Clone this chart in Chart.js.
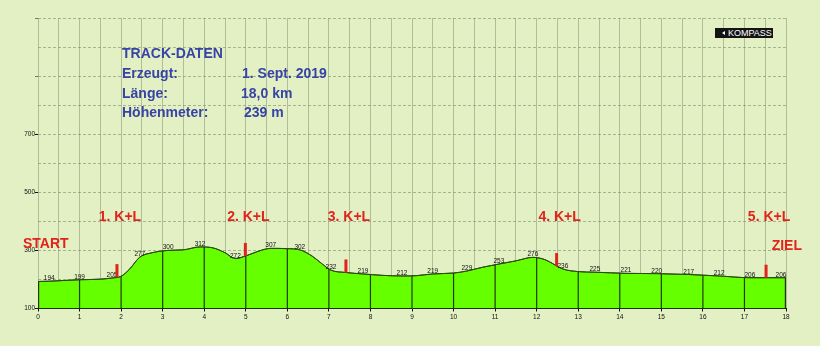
<!DOCTYPE html>
<html>
<head>
<meta charset="utf-8">
<title>Höhenprofil</title>
<script src="https://cdn.jsdelivr.net/npm/chart.js@4.4.1/dist/chart.umd.min.js"></script>
<style>
  html, body { margin: 0; padding: 0; background: #e3f0c4; }
  #wrap { position: relative; width: 820px; height: 346px; overflow: hidden; background: #e3f0c4; }
  #c { position: absolute; left: 0; top: 0; }
  .info { position: absolute; font: bold 14px "Liberation Sans", Arial, sans-serif; color: #3743a5;
          line-height: 16px; white-space: nowrap; }
  #logo { position: absolute; left: 715px; top: 28px; width: 58px; height: 10px; background: #141414;
          color: #fff; font: 9px "Liberation Sans", Arial, sans-serif; line-height: 10px; white-space: nowrap; }
  #logo .tri { position: absolute; left: 7px; top: 3px; width: 0; height: 0;
               border-top: 2px solid transparent; border-bottom: 2px solid transparent; border-right: 3px solid #fff; }
  #logo .txt { position: absolute; left: 13px; top: 0; }
</style>
</head>
<body>
<div id="wrap">
  <canvas id="c" width="820" height="346"></canvas>
  <div class="info" style="left:122px;top:45px">TRACK-DATEN</div>
  <div class="info" style="left:122px;top:65px">Erzeugt:</div>
  <div class="info" style="left:242px;top:65px">1. Sept. 2019</div>
  <div class="info" style="left:122px;top:85px">Länge:</div>
  <div class="info" style="left:241px;top:85px">18,0 km</div>
  <div class="info" style="left:122px;top:104px">Höhenmeter:</div>
  <div class="info" style="left:244px;top:104px">239 m</div>
  <div id="logo"><span class="tri"></span><span class="txt">KOMPASS</span></div>
</div>
<script>
// Spot heights printed along the profile (km, m)
const spotKm = [0.27, 1.0, 1.78, 2.45, 3.13, 3.9, 4.75, 5.6, 6.3, 7.05, 7.82, 8.76,
                9.5, 10.32, 11.09, 11.91, 12.63, 13.4, 14.15, 14.89, 15.66, 16.39, 17.13, 17.88];
const spotM  = [194, 199, 205, 277, 300, 312, 272, 307, 302, 232, 219, 212,
                219, 229, 253, 276, 236, 225, 221, 220, 217, 212, 206, 206];

// Further points of the terrain line between the spot heights (km, m)
const shapeKm = [0, 1.5, 2.0, 2.2, 2.75, 3.5, 4.2, 4.5, 5.0, 5.3, 6.0, 6.6, 6.85,
                 7.4, 8.3, 9.1, 10.0, 10.7, 11.5, 12.2, 13.0, 18.0];
const shapeM  = [193, 201, 211, 235, 292, 302, 309, 292, 281, 297, 306, 280, 252,
                 224, 214, 213, 222, 242, 264, 268, 227, 206];

// Control and refreshment stations (Kontrolle + Labe)
const stationKm    = [1.9, 4.99, 7.41, 12.48, 17.52];
const stationM     = [208, 281, 224, 246, 206];
const stationNames = ['1. K+L', '2. K+L', '3. K+L', '4. K+L', '5. K+L'];

// Axis ticks
const kmTicks     = [0, 1, 2, 3, 4, 5, 6, 7, 8, 9, 10, 11, 12, 13, 14, 15, 16, 17, 18];
const heightTicks = [100, 300, 500, 700];

// merged, sorted profile; remember which points carry a printed height
const profile = spotKm.map((k, i) => ({ x: k, y: spotM[i], spot: true }))
  .concat(shapeKm.map((k, i) => ({ x: k, y: shapeM[i], spot: false })))
  .sort((a, b) => a.x - b.x);

const FONT = '"Liberation Sans", Arial, sans-serif';

const profileDecor = {
  id: 'profileDecor',
  afterDatasetsDraw(chart) {
    const { ctx, chartArea, scales: { x, y } } = chart;
    const meta = chart.getDatasetMeta(0);
    const line = meta.dataset;
    const pts = meta.data;

    // kilometre lines inside the filled terrain
    ctx.save();
    ctx.beginPath();
    line.path(ctx);
    ctx.lineTo(pts[pts.length - 1].x + 1, pts[pts.length - 1].y);
    ctx.lineTo(pts[pts.length - 1].x + 1, chartArea.bottom);
    ctx.lineTo(pts[0].x - 1, chartArea.bottom);
    ctx.lineTo(pts[0].x - 1, pts[0].y);
    ctx.closePath();
    ctx.clip();
    ctx.strokeStyle = '#1f3a0c';
    ctx.lineWidth = 1.2;
    kmTicks.forEach(k => {
      const px = Math.min(Math.max(x.getPixelForValue(k), chartArea.left + 0.6), chartArea.right - 0.6);
      ctx.beginPath();
      ctx.moveTo(px, chartArea.bottom);
      ctx.lineTo(px, chartArea.top);
      ctx.stroke();
    });
    ctx.restore();

    // terrain outline on top
    ctx.save();
    ctx.beginPath();
    line.path(ctx);
    ctx.strokeStyle = '#2b4a12';
    ctx.lineWidth = 1;
    ctx.stroke();
    ctx.restore();

    // printed spot heights
    ctx.save();
    ctx.fillStyle = '#111';
    ctx.font = '6.5px ' + FONT;
    ctx.textAlign = 'center';
    ctx.textBaseline = 'alphabetic';
    profile.forEach((p, i) => {
      if (!p.spot) return;
      const el = pts[i];
      ctx.fillText(String(p.y), el.x, el.y - 1);
    });
    ctx.restore();

    // station markers and names
    ctx.save();
    ctx.fillStyle = '#e2231b';
    ctx.font = 'bold 14px ' + FONT;
    ctx.textAlign = 'center';
    ctx.textBaseline = 'alphabetic';
    stationKm.forEach((k, i) => {
      const px = x.getPixelForValue(k);
      const py = y.getPixelForValue(stationM[i]);
      ctx.fillRect(px - 1.5, py - 13, 3, 13);
      ctx.fillText(stationNames[i], px + 3, 221);
    });
    ctx.textAlign = 'left';
    ctx.fillText('START', 23, 247.5);
    ctx.textAlign = 'right';
    ctx.fillText('ZIEL', 802, 250);
    ctx.restore();
  }
};

new Chart(document.getElementById('c'), {
  type: 'line',
  data: {
    datasets: [{
      data: profile,
      borderColor: '#2b4a12',
      borderWidth: 1,
      backgroundColor: '#66ff00',
      fill: 'start',
      pointRadius: 0,
      cubicInterpolationMode: 'monotone'
    }]
  },
  options: {
    responsive: false,
    devicePixelRatio: 1,
    animation: false,
    layout: { padding: { left: 0, top: 18, right: 34, bottom: 0 } },
    plugins: { legend: { display: false }, tooltip: { enabled: false } },
    scales: {
      x: {
        type: 'linear',
        min: 0, max: 18,
        offset: false,
        afterFit(scale) { scale.height = 37.5; },
        border: { display: true, color: '#111', width: 1 },
        grid: {
          color: 'rgba(125,140,105,0.5)',
          lineWidth: 1,
          drawTicks: true,
          tickLength: 3,
          tickColor: c => kmTicks.includes(c.tick.value) ? '#111' : 'rgba(0,0,0,0)'
        },
        ticks: {
          stepSize: 0.5,
          autoSkip: false,
          maxRotation: 0,
          padding: 2,
          color: '#111',
          font: { family: FONT, size: 6.5 },
          callback: v => kmTicks.includes(v) ? String(v) : ''
        }
      },
      y: {
        type: 'linear',
        min: 100, max: 1100,
        afterFit(scale) { scale.width = 38; },
        border: { display: false, dash: [3, 2] },
        grid: {
          color: 'rgba(125,140,105,0.6)',
          lineWidth: 1,
          drawTicks: true,
          tickLength: 3,
          tickColor: c => heightTicks.includes(c.tick.value) ? '#111'
            : (c.tick.value === 900 || c.tick.value === 1100 ? 'rgba(40,40,40,0.6)' : 'rgba(0,0,0,0)')
        },
        ticks: {
          stepSize: 100,
          autoSkip: false,
          padding: 0,
          color: '#111',
          font: { family: FONT, size: 6.5 },
          callback: v => heightTicks.includes(v) ? String(v) : ''
        }
      }
    }
  },
  plugins: [profileDecor]
});
</script>
</body>
</html>
